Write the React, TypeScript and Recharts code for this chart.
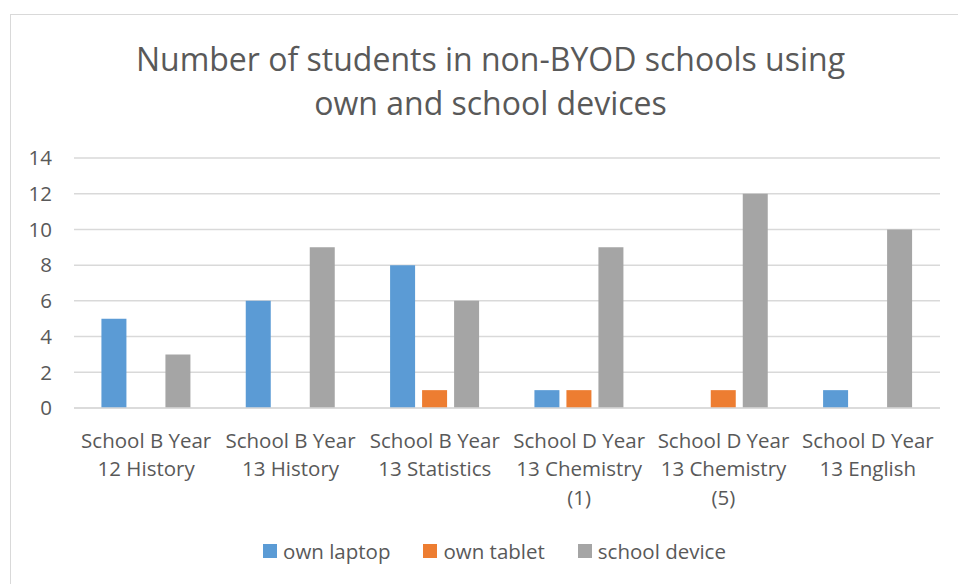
import React from "react";
import { BarChart, Bar, XAxis, YAxis, CartesianGrid } from "recharts";

const categories = [
  "School B Year 12 History",
  "School B Year 13 History",
  "School B Year 13 Statistics",
  "School D Year 13 Chemistry (1)",
  "School D Year 13 Chemistry (5)",
  "School D Year 13 English",
];
const ownLaptop = [5, 6, 8, 1, 0, 1];
const ownTablet = [0, 0, 1, 1, 1, 0];
const schoolDevice = [3, 9, 6, 9, 12, 10];
const yTicks = [0, 2, 4, 6, 8, 10, 12, 14];

const seriesNames = ["own laptop", "own tablet", "school device"];
const colors = ["#5B9BD5", "#ED7D31", "#A5A5A5"];

const data = categories.map((c, i) => ({
  name: c,
  laptop: ownLaptop[i],
  tablet: ownTablet[i],
  school: schoolDevice[i],
}));

const FONT = "'Open Sans', sans-serif";
const TEXT = "#595959";
const FS = 20.5;

function wrap(s: string, max: number): string[] {
  const words = s.split(" ");
  const lines: string[] = [];
  let cur = "";
  for (const w of words) {
    const t = cur ? cur + " " + w : w;
    if (t.length > max && cur) {
      lines.push(cur);
      cur = w;
    } else cur = t;
  }
  if (cur) lines.push(cur);
  return lines;
}

const XTick = (props: any) => {
  const { x, y, payload } = props;
  const lines = wrap(String(payload.value), 13);
  return (
    <text x={x} y={y} textAnchor="middle" fill={TEXT} fontSize={FS} fontFamily={FONT}>
      {lines.map((l, i) => (
        <tspan key={i} x={x} dy={i === 0 ? 32 : 28.3}>
          {l}
        </tspan>
      ))}
    </text>
  );
};

export default function App() {
  return (
    <div style={{ position: "absolute", left: 0, top: 0, width: 958, height: 584, background: "#fff", overflow: "hidden" }}>
      <div style={{ position: "absolute", left: 10, top: 14, width: 960, height: 600, border: "1.5px solid #D9D9D9", boxSizing: "border-box" }} />
      <div
        style={{
          position: "absolute",
          left: 0,
          width: 981,
          top: 37,
          textAlign: "center",
          fontFamily: FONT,
          fontSize: 32,
          lineHeight: "44px",
          color: TEXT,
        }}
      >
        Number of students in non-BYOD schools using
        <br />
        own and school devices
      </div>
      <div style={{ position: "absolute", left: 0, top: 0 }}>
        <BarChart
          width={958}
          height={584}
          data={data}
          margin={{ top: 158, right: 18, left: 0, bottom: 76 }}
          barCategoryGap="19%"
          barGap={7}
        >
          <CartesianGrid vertical={false} stroke="#D9D9D9" strokeWidth={1.5} />
          <XAxis
            dataKey="name"
            interval={0}
            height={100}
            tick={<XTick />}
            tickLine={false}
            axisLine={{ stroke: "#D9D9D9", strokeWidth: 1.5 }}
          />
          <YAxis
            width={74}
            domain={[0, 14]}
            ticks={yTicks}
            tickLine={false}
            axisLine={false}
            tickSize={0}
            tickMargin={22}
            tick={{ fill: TEXT, fontSize: FS, fontFamily: FONT }}
          />
          <Bar dataKey="laptop" name={seriesNames[0]} fill={colors[0]} isAnimationActive={false} />
          <Bar dataKey="tablet" name={seriesNames[1]} fill={colors[1]} isAnimationActive={false} />
          <Bar dataKey="school" name={seriesNames[2]} fill={colors[2]} isAnimationActive={false} />
        </BarChart>
      </div>
      <div
        style={{
          position: "absolute",
          top: 536,
          left: 0,
          width: 989,
          display: "flex",
          justifyContent: "center",
          alignItems: "center",
          fontFamily: FONT,
          fontSize: FS,
          color: TEXT,
          lineHeight: "30px",
        }}
      >
        {seriesNames.map((n, i) => (
          <div key={n} style={{ display: "flex", alignItems: "center", marginRight: i < 2 ? 33 : 0 }}>
            <div style={{ width: 14, height: 14, background: colors[i], marginRight: 6 }} />
            <span>{n}</span>
          </div>
        ))}
      </div>
    </div>
  );
}
